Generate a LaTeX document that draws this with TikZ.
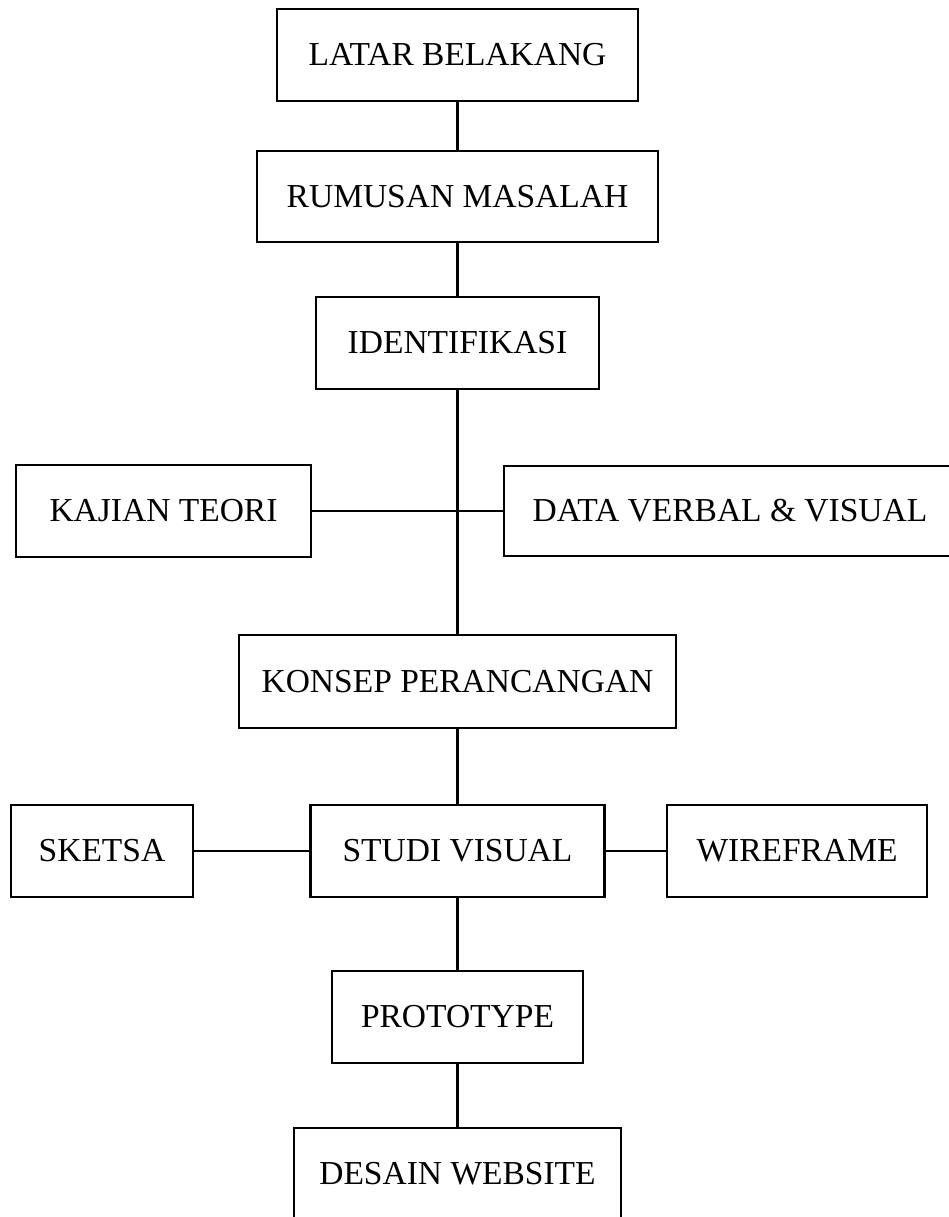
\documentclass[tikz,border=0pt]{standalone}
\usepackage{fontspec}
\setmainfont{Liberation Serif}
\begin{document}
\begin{tikzpicture}[x=1pt,y=-1pt,
  box/.style={draw=black, line width=2.2pt, rectangle, inner sep=0pt,
    minimum height=92pt, font=\fontsize{33.5}{40}\selectfont, text=black},
  link/.style={draw=black, line width=2.2pt}]
\useasboundingbox (0,0) rectangle (948,1217);
\node[box, minimum width=361pt] (latar) at (457.5,55) {LATAR BELAKANG};
\node[box, minimum width=401pt, minimum height=91pt] (rumusan) at (457.5,196.5) {RUMUSAN MASALAH};
\node[box, minimum width=283pt] (ident) at (457.5,343) {IDENTIFIKASI};
\node[box, minimum width=295pt] (kajian) at (163.5,511) {KAJIAN TEORI};
\node[box, minimum width=452pt, minimum height=90pt] (data) at (730,511) {DATA VERBAL \& VISUAL};
\node[box, minimum width=437pt, minimum height=93pt] (konsep) at (457.5,681.5) {KONSEP PERANCANGAN};
\node[box, minimum width=182pt] (sketsa) at (102,851) {SKETSA};
\node[box, minimum width=294pt] (studi) at (457.5,851) {STUDI VISUAL};
\node[box, minimum width=260pt] (wire) at (797,851) {WIREFRAME};
\node[box, minimum width=251pt] (proto) at (457.5,1017) {PROTOTYPE};
\node[box, minimum width=327pt] (desain) at (457.5,1174) {DESAIN WEBSITE};
\draw[link] (latar.south) -- (rumusan.north);
\draw[link] (rumusan.south) -- (ident.north);
\draw[link] (ident.south) -- (konsep.north);
\draw[link] (kajian.east) -- (data.west);
\draw[link] (konsep.south) -- (studi.north);
\draw[link] (sketsa.east) -- (studi.west);
\draw[link] (studi.east) -- (wire.west);
\draw[link] (studi.south) -- (proto.north);
\draw[link] (proto.south) -- (desain.north);
\end{tikzpicture}
\end{document}
